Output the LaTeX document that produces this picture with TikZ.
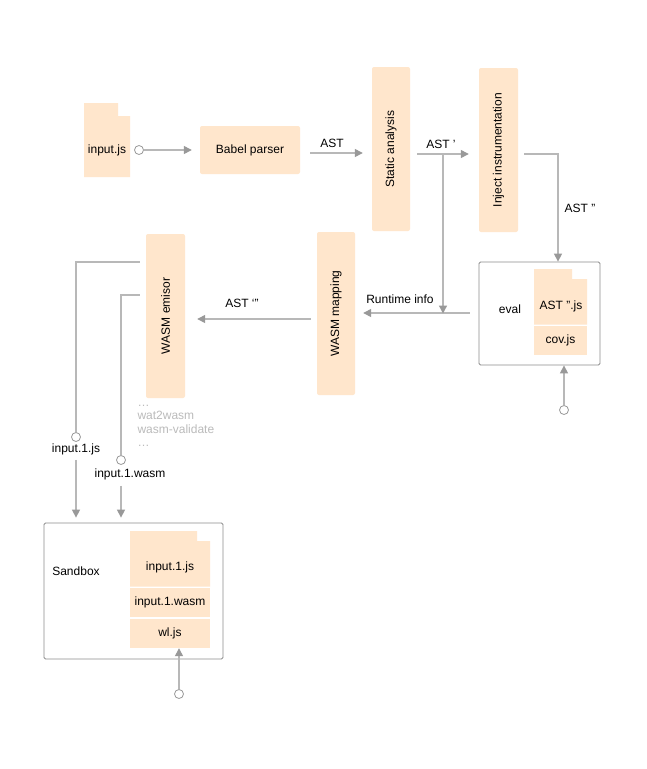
\documentclass[tikz,border=0pt]{standalone}
\usepackage{fontspec}
\setmainfont{Liberation Sans}
\usetikzlibrary{arrows.meta,calc}
\definecolor{fillc}{HTML}{FFE6CC}
\definecolor{lgray}{HTML}{B8B8B8}
\definecolor{tgray}{HTML}{999999}
\definecolor{bgray}{HTML}{8C8C8C}
\definecolor{txtgray}{HTML}{BBBBBB}
\begin{document}
\begin{tikzpicture}[x=1pt,y=-1pt,
  every node/.style={font=\fontsize{12}{14}\selectfont, text=black},
  proc/.style={rectangle, rounded corners=2pt, fill=fillc, draw=none, inner sep=0pt},
  part/.style={rectangle, fill=fillc, draw=none, inner sep=0pt},
  frame/.style={rectangle, rounded corners=1.5pt, draw=bgray, line width=0.8pt, fill=white, inner sep=0pt},
  folder/.style={fill=fillc, draw=none},
  conn/.style={draw=lgray, line width=1.3pt, -{Triangle[length=8pt,width=8pt,color=tgray]}},
  plain/.style={draw=lgray, line width=1.3pt},
  dot/.style={circle, draw=tgray, fill=white, line width=0.8pt, inner sep=0pt, minimum size=9pt},
  lbl/.style={inner sep=1pt}
]
\useasboundingbox (0,0) rectangle (646,769);
\fill[white] (0,0) rectangle (646,769);

% input.js folder
\path[folder] (84,103) -- (118,103) -- (118,116) -- (130,116) -- (130,177) -- (84,177) -- cycle;
\node[lbl] (injs) at (107,150) {input.js};
\node[dot] (d1) at (139,150) {};

% main boxes
\node[proc, minimum width=100pt, minimum height=48pt] (babel) at (250,150) {Babel parser};
\node[proc, minimum width=38pt, minimum height=164pt] (static) at (391,149) {};
\node[rotate=90] at (static.center) {Static analysis};
\node[proc, minimum width=39pt, minimum height=164pt] (inject) at (498.5,150) {};
\node[rotate=90] at (inject.center) {Inject instrumentation};
\node[proc, minimum width=38pt, minimum height=163pt] (mapping) at (336,313.5) {};
\node[rotate=90] at (mapping.center) {WASM mapping};
\node[proc, minimum width=39pt, minimum height=164pt] (emisor) at (165.5,316) {};
\node[rotate=90] at (emisor.center) {WASM emisor};

% eval box
\node[frame, minimum width=121pt, minimum height=103pt] (eval) at (539.5,313.5) {};
\node[lbl] (evallbl) at (510,309) {eval};
\path[folder] (534,269) -- (572,269) -- (572,279) -- (587,279) -- (587,324.5) -- (534,324.5) -- cycle;
\node[lbl] (astjs) at (561,306) {AST ”.js};
\node[part, minimum width=53pt, minimum height=28.5pt] (cov) at (560.5,340.5) {cov.js};
\node[dot] (d2) at (564,410) {};

% sandbox box
\node[frame, minimum width=179pt, minimum height=136pt] (sandbox) at (133.5,591) {};
\node[lbl] (sblbl) at (76,571) {Sandbox};
\path[folder] (130,531) -- (197,531) -- (197,541) -- (210,541) -- (210,586.5) -- (130,586.5) -- cycle;
\node[lbl] (in1js) at (170,567) {input.1.js};
\node[part, minimum width=80pt, minimum height=29pt] (in1wasm) at (170,602.5) {input.1.wasm};
\node[part, minimum width=80pt, minimum height=29pt] (wl) at (170,633.5) {wl.js};
\node[dot] (d5) at (179,694) {};

% emisor outputs
\node[dot] (d3) at (76,437) {};
\node[dot] (d4) at (121,460) {};
\node[lbl] (l1) at (76,449) {input.1.js};
\node[lbl] (l2) at (130,474) {input.1.wasm};
\node[anchor=west, align=left, text=txtgray, font=\fontsize{12}{13.5}\selectfont] (tools) at (134,426) {…\\wat2wasm\\wasm-validate\\…};

% labels
\node[lbl] (lab1) at (332,143) {AST};
\node[lbl] (lab2) at (441,144) {AST ’};
\node[lbl] (lab3) at (580,208) {AST ''};
\node[lbl] (lab4) at (400,299) {Runtime info};
\node[lbl] (lab5) at (242,303) {AST ‘”};

% connectors
\draw[conn, shorten >=8pt] (d1) -- (babel.west);
\draw[conn, shorten <=10pt, shorten >=9pt] ([yshift=-3pt]babel.east) -- ([yshift=-3pt]babel.east -| static.west);
\draw[conn, shorten <=7pt, shorten >=10pt] ([yshift=-5pt]static.east) -- ([yshift=-5pt]static.east -| inject.west);
\coordinate (br) at (443,154);
\draw[conn, shorten <=9pt, shorten >=8pt] ([yshift=0.5pt]eval.west) -- ([yshift=0.5pt]eval.west -| mapping.east);
\draw[conn] (br) -- (br |- eval.west);
\draw[conn] ([shift={(6pt,-4pt)}]inject.east) -| ([xshift=18.5pt]eval.north);
\draw[conn] (d2) -- (d2 |- eval.south);
\draw[conn, shorten <=6pt, shorten >=12pt] ([yshift=-5.5pt]mapping.west) -- ([yshift=-5.5pt]mapping.west -| emisor.east);
\draw[plain, shorten <=6pt] ([yshift=54pt]emisor.west) -| (d3);
\draw[plain, shorten <=6pt] ([yshift=21pt]emisor.west) -| (d4);
\draw[conn, shorten <=4pt, shorten >=5pt] (l1.south) -- (l1.south |- sandbox.north);
\draw[conn, shorten <=5pt, shorten >=5pt] (l2.south -| d4) -- (d4 |- sandbox.north);
\draw[conn] (d5) -- (d5 |- wl.south);
\end{tikzpicture}
\end{document}
